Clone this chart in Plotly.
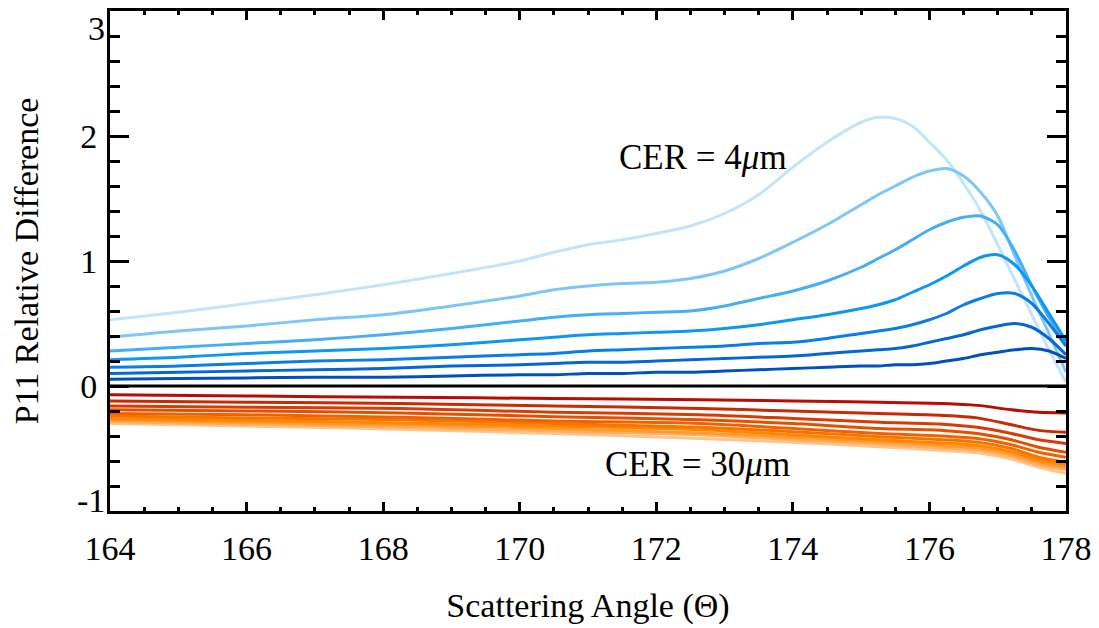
import plotly.graph_objects as go

# Scattering angle grid for the small-CER (blue) curves
angle_blue = [164, 165, 166, 167, 168, 169, 170, 170.5, 171, 171.5, 172, 172.5, 173, 173.5,
              174, 174.5, 175, 175.25, 175.5, 175.75, 176, 176.25, 176.5, 176.75, 177,
              177.25, 177.5, 177.75, 178]

blue_1 = [0.53, 0.59, 0.66, 0.73, 0.81, 0.90, 1.00, 1.07, 1.13, 1.17, 1.22, 1.28, 1.38, 1.53,
          1.75, 1.95, 2.11, 2.15, 2.14, 2.08, 1.95, 1.81, 1.62, 1.40, 1.13, 0.85, 0.57, 0.29, 0.03]
blue_2 = [0.39, 0.44, 0.48, 0.53, 0.57, 0.64, 0.72, 0.77, 0.80, 0.82, 0.83, 0.86, 0.92, 1.02,
          1.15, 1.29, 1.45, 1.53, 1.60, 1.67, 1.72, 1.74, 1.68, 1.55, 1.36, 1.04, 0.72, 0.42, 0.11]
blue_3 = [0.28, 0.31, 0.34, 0.37, 0.41, 0.46, 0.52, 0.55, 0.57, 0.58, 0.59, 0.60, 0.64, 0.70,
          0.76, 0.84, 0.95, 1.02, 1.09, 1.17, 1.25, 1.31, 1.35, 1.36, 1.29, 1.08, 0.80, 0.55, 0.33]
blue_4 = [0.21, 0.23, 0.26, 0.28, 0.30, 0.33, 0.37, 0.39, 0.41, 0.42, 0.43, 0.44, 0.46, 0.49,
          0.53, 0.57, 0.62, 0.65, 0.69, 0.75, 0.81, 0.88, 0.96, 1.03, 1.05, 0.97, 0.80, 0.58, 0.36]
blue_5 = [0.15, 0.16, 0.18, 0.20, 0.21, 0.23, 0.25, 0.26, 0.28, 0.29, 0.30, 0.31, 0.32, 0.34,
          0.35, 0.38, 0.42, 0.44, 0.46, 0.49, 0.53, 0.58, 0.65, 0.70, 0.74, 0.74, 0.66, 0.50, 0.32]
blue_6 = [0.10, 0.11, 0.12, 0.13, 0.14, 0.16, 0.17, 0.18, 0.19, 0.19, 0.20, 0.21, 0.22, 0.23,
          0.24, 0.26, 0.28, 0.29, 0.30, 0.32, 0.35, 0.38, 0.41, 0.45, 0.48, 0.50, 0.47, 0.38, 0.25]
blue_7 = [0.055, 0.06, 0.065, 0.07, 0.07, 0.08, 0.09, 0.09, 0.10, 0.10, 0.11, 0.11, 0.12, 0.13,
          0.14, 0.15, 0.16, 0.16, 0.17, 0.17, 0.18, 0.20, 0.22, 0.25, 0.27, 0.29, 0.30, 0.28, 0.22]

blue_series = [blue_1, blue_2, blue_3, blue_4, blue_5, blue_6, blue_7]
blue_colors = ["#c2e4fb", "#7fc6f8", "#45aef6", "#0c98f2", "#0a7ee6", "#0567d3", "#0050bf"]

# Scattering angle grid for the large-CER (orange/red) curves
angle_orange = [164, 166, 168.25, 170.5, 172.64, 174, 175.27, 176.2, 176.7, 177.2, 177.6, 178]

orange_1 = [-0.07, -0.08, -0.09, -0.10, -0.11, -0.12, -0.13, -0.14, -0.155, -0.19, -0.21, -0.215]
orange_2 = [-0.12, -0.13, -0.14, -0.16, -0.18, -0.20, -0.22, -0.235, -0.255, -0.31, -0.355, -0.37]
orange_3 = [-0.16, -0.17, -0.18, -0.21, -0.23, -0.26, -0.29, -0.305, -0.33, -0.38, -0.43, -0.46]
orange_4 = [-0.19, -0.20, -0.215, -0.245, -0.27, -0.30, -0.34, -0.355, -0.38, -0.43, -0.49, -0.53]
orange_5 = [-0.22, -0.23, -0.25, -0.28, -0.30, -0.34, -0.38, -0.40, -0.42, -0.47, -0.53, -0.57]
orange_6 = [-0.24, -0.255, -0.27, -0.30, -0.33, -0.365, -0.405, -0.43, -0.45, -0.50, -0.57, -0.61]
orange_7 = [-0.26, -0.275, -0.295, -0.32, -0.35, -0.39, -0.43, -0.455, -0.475, -0.525, -0.59, -0.63]
orange_8 = [-0.27, -0.29, -0.31, -0.34, -0.375, -0.41, -0.445, -0.475, -0.495, -0.545, -0.61, -0.65]
orange_9 = [-0.285, -0.305, -0.33, -0.36, -0.39, -0.43, -0.465, -0.495, -0.515, -0.565, -0.63, -0.67]
orange_10 = [-0.30, -0.32, -0.345, -0.38, -0.42, -0.45, -0.485, -0.515, -0.535, -0.585, -0.65, -0.70]

orange_series = [orange_1, orange_2, orange_3, orange_4, orange_5,
                 orange_6, orange_7, orange_8, orange_9, orange_10]
orange_colors = ["#b80c04", "#c82a04", "#d83c02", "#e64e00", "#f06200", "#f87400",
                 "#ff8600", "#ff9a30", "#ffae62", "#ffc48e"]

zero_x = [164, 178]
zero_y = [0, 0]

y_tick_vals = [-1, 0, 1, 2, 3]
y_tick_text = ["", "0", "1", "2", ""]
x_tick_vals = [164, 166, 168, 170, 172, 174, 176, 178]

FONT = "Liberation Serif"

fig = go.Figure()

for ys, c in zip(reversed(orange_series), reversed(orange_colors)):
    fig.add_trace(go.Scatter(x=angle_orange, y=ys, mode="lines",
                             line=dict(color=c, width=3, shape="spline", smoothing=0.8),
                             showlegend=False, hoverinfo="skip"))

for ys, c in zip(blue_series, blue_colors):
    fig.add_trace(go.Scatter(x=angle_blue, y=ys, mode="lines",
                             line=dict(color=c, width=3, shape="spline", smoothing=0.8),
                             showlegend=False, hoverinfo="skip"))

fig.add_trace(go.Scatter(x=zero_x, y=zero_y, mode="lines",
                         line=dict(color="black", width=3),
                         showlegend=False, hoverinfo="skip"))

fig.add_annotation(x=172.68, y=1.83, text="CER = 4<i>μ</i>m", showarrow=False,
                   font=dict(family=FONT, size=35, color="black"))
fig.add_annotation(x=172.6, y=-0.63, text="CER = 30<i>μ</i>m", showarrow=False,
                   font=dict(family=FONT, size=35, color="black"))

# End labels of the y axis, set inside the frame as in the original
fig.add_annotation(xref="paper", x=0, y=3, text="3", showarrow=False, xanchor="right",
                   xshift=-3, yshift=-17, font=dict(family=FONT, size=34, color="black"))
fig.add_annotation(xref="paper", x=0, y=-1, text="-1", showarrow=False, xanchor="right",
                   xshift=-3, yshift=11, font=dict(family=FONT, size=34, color="black"))

# the page body adds an 8px offset, so the figure is 8px smaller and margins shifted
fig.update_layout(
    width=1091, height=620,
    margin=dict(l=102, r=33, t=3, b=117),
    paper_bgcolor="white", plot_bgcolor="white",
    font=dict(family=FONT, size=34, color="black"),
    xaxis=dict(
        range=[164, 178], tickvals=x_tick_vals, automargin=False,
        ticks="inside", ticklen=9, tickwidth=2.5, tickcolor="black",
        showline=True, linecolor="black", linewidth=3, mirror="allticks",
        showgrid=False, zeroline=False,
        minor=dict(dtick=0.5, ticks="inside", ticklen=4, tickwidth=2.5, tickcolor="black", showgrid=False),
        ticklabelstandoff=5,
        title=dict(text="Scattering Angle (Θ)", font=dict(family=FONT, size=34), standoff=28),
    ),
    yaxis=dict(
        range=[-1, 3], tickvals=y_tick_vals, ticktext=y_tick_text, automargin=False,
        ticks="inside", ticklen=19, tickwidth=2.5, tickcolor="black",
        showline=True, linecolor="black", linewidth=3, mirror="allticks",
        showgrid=False, zeroline=False,
        minor=dict(dtick=0.2, ticks="inside", ticklen=10, tickwidth=2.5, tickcolor="black", showgrid=False),
        ticklabelstandoff=3,
        title=dict(text="P11 Relative Difference", font=dict(family=FONT, size=34), standoff=32),
    ),
)

fig.write_html("out.html")
